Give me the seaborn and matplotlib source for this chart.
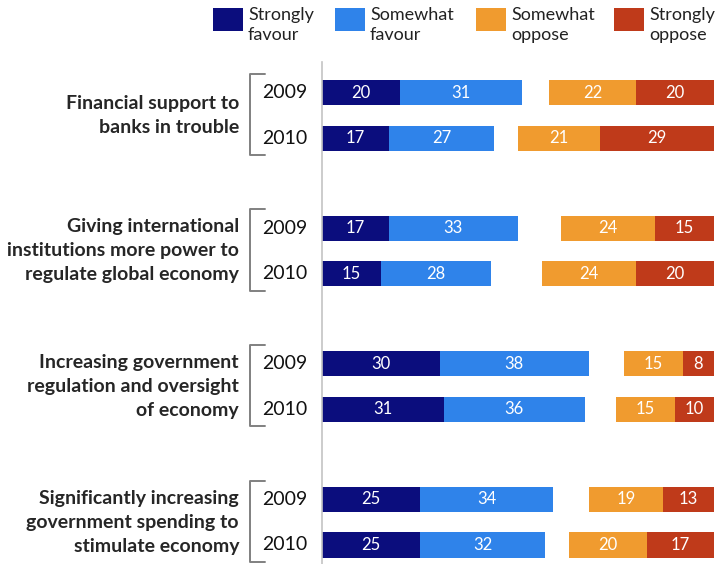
import numpy as np
import matplotlib
matplotlib.use("Agg")
import matplotlib.pyplot as plt
from matplotlib.patches import Rectangle
from matplotlib.lines import Line2D
from matplotlib import transforms
import seaborn as sns

# ---- data -------------------------------------------------------------
topics = [
    "Financial support to\nbanks in trouble",
    "Giving international\ninstitutions more power to\nregulate global economy",
    "Increasing government\nregulation and oversight\nof economy",
    "Significantly increasing\ngovernment spending to\nstimulate economy",
]
years = ["2009", "2010"]

# one value per (topic, year) row, in topic order, 2009 then 2010
strongly_favour = [20, 17, 17, 15, 30, 31, 25, 25]
somewhat_favour = [31, 27, 33, 28, 38, 36, 34, 32]
somewhat_oppose = [22, 21, 24, 24, 15, 15, 19, 20]
strongly_oppose = [20, 29, 15, 20, 8, 10, 13, 17]

series_names = ["Strongly\nfavour", "Somewhat\nfavour", "Somewhat\noppose", "Strongly\noppose"]
colors = ["#0b0d7d", "#2f83ea", "#f09b2f", "#bf3a1a"]

# ---- style ------------------------------------------------------------
sns.set_theme(style="white")
plt.rcParams["font.family"] = ["Lato", "DejaVu Sans"]

W, H = 717, 564
fig = plt.figure(figsize=(W / 100, H / 100), dpi=100)
ax_left, ax_right, ax_top, ax_bottom = 322, 714, 62, 564
ax = fig.add_axes([ax_left / W, 1 - ax_bottom / H, (ax_right - ax_left) / W, (ax_bottom - ax_top) / H])

group_step = 2.97
n_groups = len(topics)
ypos = np.array([g * group_step + j for g in range(n_groups) for j in range(len(years))])
bar_h = 0.55

sf = np.array(strongly_favour)
wf = np.array(somewhat_favour)
wo = np.array(somewhat_oppose)
so = np.array(strongly_oppose)

# favour segments grow from 0, oppose segments end at 100
lefts = [np.zeros_like(sf), sf, 100 - so - wo, 100 - so]
widths = [sf, wf, wo, so]

for left, width, col in zip(lefts, widths, colors):
    ax.barh(ypos, width, left=left, height=bar_h, color=col, edgecolor="none")
    for y, l, w in zip(ypos, left, width):
        ax.text(l + w / 2, y, f"{w}", ha="center", va="center",
                color="white", fontsize=12)

ax.set_xlim(0, 100)
px_per_unit = 45.66
ax.set_ylim((ax_bottom - 92.5) / px_per_unit, (ax_top - 92.5) / px_per_unit)
ax.set_xticks([])
ax.set_yticks([])
for s in ["top", "right", "bottom"]:
    ax.spines[s].set_visible(False)
ax.spines["left"].set_color("#c4c4c4")
ax.spines["left"].set_linewidth(1.2)

# ---- row labels, year labels and brackets -----------------------------
trans = transforms.blended_transform_factory(fig.transFigure, ax.transData)
for g, topic in enumerate(topics):
    y0 = g * group_step
    ax.text(239 / W, y0 + 0.5, topic, transform=trans, ha="right", va="center",
            fontsize=14, fontweight="bold", color="#262626", linespacing=1.5)
    for j, yr in enumerate(years):
        ax.text(262 / W, y0 + j, yr, transform=trans, ha="left", va="center",
                fontsize=14, color="#111111")
    bx0, bx1 = 249.5 / W, 265 / W
    yt, yb = y0 - 0.41, y0 + 1.37
    ax.add_line(Line2D([bx1, bx0, bx0, bx1], [yt, yt, yb, yb], transform=trans,
                       color="#808080", lw=1.4, clip_on=False))

# ---- legend -----------------------------------------------------------
legend_x = [213, 335, 476, 614]
for name, col, x in zip(series_names, colors, legend_x):
    fig.add_artist(Rectangle((x / W, 1 - 31 / H), 30 / W, 23 / H,
                             transform=fig.transFigure, facecolor=col, edgecolor="none"))
    fig.text((x + 35) / W, 1 - 25 / H, name, ha="left", va="center",
             fontsize=13, color="#222222", linespacing=1.25)

fig.savefig("out.png", dpi=100)
